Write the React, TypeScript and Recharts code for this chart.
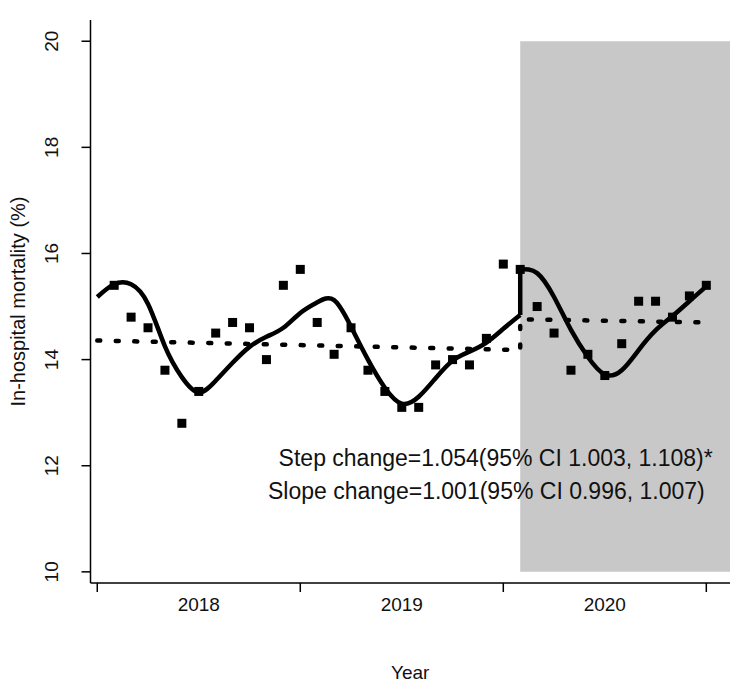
import React from 'react';
import {
  ComposedChart,
  Line,
  Scatter,
  XAxis,
  YAxis,
  ReferenceArea,
  ReferenceDot,
  Label,
} from 'recharts';

const FONT = '"Liberation Sans", Arial, Helvetica, sans-serif';

// month index (1 = Jan 2018 ... 36 = Dec 2020)
const monthIndex = [
  1, 2, 3, 4, 5, 6, 7, 8, 9, 10, 11, 12,
  13, 14, 15, 16, 17, 18, 19, 20, 21, 22, 23, 24,
  25, 26, 27, 28, 29, 30, 31, 32, 33, 34, 35, 36,
];
const mortality = [
  15.4, 14.8, 14.6, 13.8, 12.8, 13.4, 14.5, 14.7, 14.6, 14.0, 15.4, 15.7,
  14.7, 14.1, 14.6, 13.8, 13.4, 13.1, 13.1, 13.9, 14.0, 13.9, 14.4, 15.8,
  15.7, 15.0, 14.5, 13.8, 14.1, 13.7, 14.3, 15.1, 15.1, 14.8, 15.2, 15.4,
];

// seasonal fitted curve, before the interruption
const fitPreMonth = [0, 1, 2, 3, 4, 5, 6, 7, 8, 9, 10, 11, 12, 13, 14, 15, 16, 17, 18, 19, 20, 21, 22, 23, 24, 25];
const fitPreValue = [
  15.18, 15.42, 15.42, 15.05, 14.25, 13.67, 13.38, 13.6, 13.94, 14.24, 14.43, 14.6, 14.88,
  15.08, 15.12, 14.62, 14.0, 13.47, 13.17, 13.3, 13.65, 13.98, 14.15, 14.32, 14.58, 14.84,
];
// seasonal fitted curve, after the interruption
const fitPostMonth = [25, 26, 27, 28, 29, 30, 31, 32, 33, 34, 35, 36];
const fitPostValue = [15.7, 15.63, 15.18, 14.56, 14.05, 13.72, 13.8, 14.18, 14.55, 14.82, 15.1, 15.38];
// vertical jump of the fitted curve
const stepMonth = [25, 25];
const stepValue = [14.84, 15.7];

// deseasonalised trend (dotted)
const trendMonth = [0, 25, 25, 36];
const trendValue = [14.36, 14.18, 14.76, 14.7];

const yearTicks = [0, 12, 24, 36];
const yearLabelPos = [6, 18, 30];
const yearLabels = ['2018', '2019', '2020'];
const yTicks = [10, 12, 14, 16, 18, 20];

const interventionStart = 25;
const shadeTop = 20;
const shadeBottom = 10;

const stepText = 'Step change=1.054(95% CI 1.003, 1.108)*';
const slopeText = 'Slope change=1.001(95% CI 0.996, 1.007)';

const points = monthIndex.map((t, i) => ({ t, v: mortality[i] }));
const fitPre = fitPreMonth.map((t, i) => ({ t, v: fitPreValue[i] }));
const fitPost = fitPostMonth.map((t, i) => ({ t, v: fitPostValue[i] }));
const step = stepMonth.map((t, i) => ({ t, v: stepValue[i] }));
const trend = trendMonth.map((t, i) => ({ t, v: trendValue[i] }));

const XTick = (props: any) => {
  const { x, y, payload } = props;
  const v = payload.value;
  if (yearTicks.indexOf(v) >= 0) {
    return <line x1={x} x2={x} y1={y} y2={y + 9} stroke="#000" strokeWidth={1.5} />;
  }
  const li = yearLabelPos.indexOf(v);
  return (
    <text x={x} y={y + 28} textAnchor="middle" fontSize={19} fontFamily={FONT} fill="#111">
      {yearLabels[li]}
    </text>
  );
};

const YTick = (props: any) => {
  const { x, y, payload } = props;
  const bx = x - 23;
  return (
    <text
      x={bx}
      y={y}
      transform={`rotate(-90, ${bx}, ${y})`}
      textAnchor="middle"
      fontSize={19}
      fontFamily={FONT}
      fill="#111"
    >
      {payload.value}
    </text>
  );
};

const Square = (props: any) => {
  const { cx, cy } = props;
  return <rect x={cx - 4.5} y={cy - 4.5} width={9} height={9} fill="#000" />;
};

const annot = (text: string) => (props: any) => {
  const vb = props.viewBox || {};
  const x = (vb.x ?? 0) + (vb.width ?? 0) / 2;
  const y = (vb.y ?? 0) + (vb.height ?? 0) / 2;
  return (
    <text x={x} y={y} textAnchor="middle" fontSize={23} fontFamily={FONT} fill="#111">
      {text}
    </text>
  );
};

export default function App() {
  return (
    <ComposedChart
      width={728}
      height={678}
      margin={{ top: 12, right: 6, bottom: 0, left: 0 }}
      style={{ background: '#fff' }}
    >
      <XAxis
        type="number"
        dataKey="t"
        domain={[-0.4, 37.4]}
        allowDataOverflow
        ticks={[0, 6, 12, 18, 24, 30, 36]}
        interval={0}
        tickSize={0}
        tickMargin={0}
        tickLine={false}
        tick={<XTick />}
        axisLine={{ stroke: '#000', strokeWidth: 1.5 }}
        height={103}
      >
        <Label
          content={(p: any) => {
            const vb = p.viewBox || {};
            return (
              <text
                x={vb.x + vb.width / 2}
                y={vb.y + 96}
                textAnchor="middle"
                fontSize={19}
                fontFamily={FONT}
                fill="#111"
              >
                Year
              </text>
            );
          }}
        />
      </XAxis>
      <YAxis
        type="number"
        domain={[9.79, 20.4]}
        allowDataOverflow
        ticks={yTicks}
        interval={0}
        tickSize={9}
        tickMargin={0}
        tickLine={{ stroke: '#000', strokeWidth: 1.5 }}
        axisLine={{ stroke: '#000', strokeWidth: 1.5 }}
        tick={<YTick />}
        width={82.5}
      >
        <Label
          content={(p: any) => {
            const vb = p.viewBox || {};
            const cx = vb.x + 17;
            const cy = vb.y + vb.height / 2;
            return (
              <text
                x={cx}
                y={cy}
                transform={`rotate(-90, ${cx}, ${cy})`}
                textAnchor="middle"
                fontSize={20}
                fontFamily={FONT}
                fill="#111"
              >
                In-hospital mortality (%)
              </text>
            );
          }}
        />
      </YAxis>
      <ReferenceArea
        x1={interventionStart}
        x2={37.4}
        y1={shadeBottom}
        y2={shadeTop}
        fill="#c8c8c8"
        fillOpacity={1}
        stroke="none"
        ifOverflow="visible"
      />
      <Line
        data={trend}
        dataKey="v"
        type="linear"
        dot={false}
        stroke="#000"
        strokeWidth={4.5}
        strokeDasharray="3 15.5"
        strokeLinecap="round"
        isAnimationActive={false}
      />
      <Line
        data={fitPre}
        dataKey="v"
        type="natural"
        dot={false}
        stroke="#000"
        strokeWidth={4.5}
        isAnimationActive={false}
      />
      <Line
        data={step}
        dataKey="v"
        type="linear"
        dot={false}
        stroke="#000"
        strokeWidth={4.5}
        isAnimationActive={false}
      />
      <Line
        data={fitPost}
        dataKey="v"
        type="natural"
        dot={false}
        stroke="#000"
        strokeWidth={4.5}
        isAnimationActive={false}
      />
      <Scatter data={points} dataKey="v" shape={<Square />} isAnimationActive={false} />
      <ReferenceDot x={23.55} y={12.0} r={0} fill="none" stroke="none" ifOverflow="visible" label={annot(stepText)} />
      <ReferenceDot x={23.0} y={11.38} r={0} fill="none" stroke="none" ifOverflow="visible" label={annot(slopeText)} />
    </ComposedChart>
  );
}
